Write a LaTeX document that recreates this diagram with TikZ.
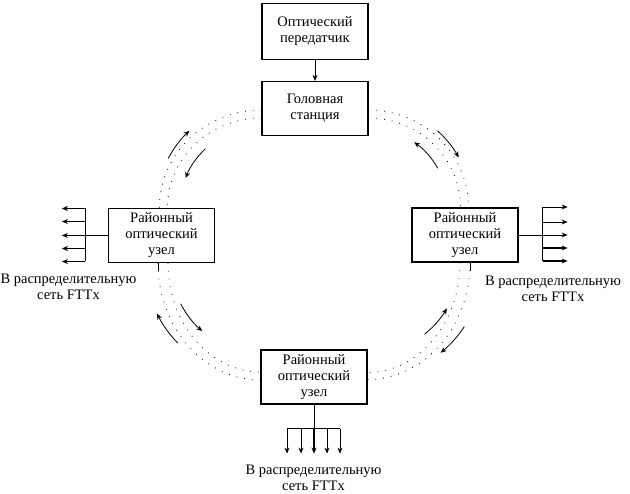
\documentclass[tikz,border=0pt]{standalone}
\usepackage{fontspec}
\setmainfont{Liberation Serif}
\usetikzlibrary{arrows.meta}

\tikzset{
    unit/.style={draw, line width=1.2pt, minimum width=106pt, minimum height=54pt, align=center},
    ring/.style={line width=0.8pt, dash pattern=on 0.8pt off 7pt},
    flow/.style={->, line width=0.8pt},
}

\begin{document}
\begin{tikzpicture}[x=1pt, y=1pt, >={Stealth[length=6pt,width=5pt]}, font=\fontsize{14.5}{16}\selectfont]
        \useasboundingbox (0,0) rectangle (630,494);

        % Boxes
        \node[unit, minimum height=56pt] (tx) at (315,462.5) {Оптический\\передатчик};
        \node[unit] (head) at (315,385.5) {Головная\\станция};
        \node[unit] (westnode) at (161.5,258.5) {Районный\\оптический\\узел};
        \node[unit] (eastnode) at (465,259) {Районный\\оптический\\узел};
        \node[unit] (bottom) at (314,117) {Районный\\оптический\\узел};

        \draw[flow] (tx) -- (head);

        % Ring (two dotted fibres)
        \draw[ring] ([yshift=-1.5pt]head.west) arc[start angle=90, end angle=180, x radius=102, y radius=98];
        \draw[ring] ([yshift=-9.5pt]head.west) arc[start angle=90, end angle=180, x radius=94, y radius=90];
        \draw[ring] ([yshift=-1.5pt]head.east) arc[start angle=90, end angle=0, x radius=100, y radius=98];
        \draw[ring] ([yshift=-9.5pt]head.east) arc[start angle=90, end angle=0, x radius=92, y radius=90];
        \draw[ring] ([xshift=-3.5pt]westnode.south) arc[start angle=180, end angle=270, x radius=103, y radius=117];
        \draw[ring] ([xshift=6.5pt]westnode.south) arc[start angle=180, end angle=270, x radius=93, y radius=109];
        \draw[ring] ([xshift=5pt]eastnode.south) arc[start angle=0, end angle=-90, x radius=103, y radius=117];
        \draw[ring] ([xshift=-5pt]eastnode.south) arc[start angle=0, end angle=-90, x radius=93, y radius=110];
        \draw ([xshift=-3.5pt]westnode.south) -- ++(0,-8);
        \draw ([xshift=5pt]eastnode.south) -- ++(0,-8);

        % Directions on the ring
        \coordinate (tl) at (head.west |- westnode.north);
        \coordinate (tr) at (head.east |- eastnode.north);
        \coordinate (bl) at (bottom.west |- westnode.south);
        \coordinate (br) at (bottom.east |- eastnode.south);
        \foreach \c/\r/\a/\b in {tl/105.5/152/133, tl/81.5/133.5/158.5, tr/103/48/29, tr/79.5/29.5/55,
                                 bl/115/224/206, bl/89.5/207/229.5, br/116/-33.5/-51, br/91.5/-51.5/-30}
            \draw[flow] ([shift={(\a:\r)}]\c) arc[start angle=\a, end angle=\b, radius=\r];

        % Outputs to FTTx
        \draw (westnode.west) -- ++(-23,0) coordinate (wbus);
        \draw ([yshift=27pt]wbus) -- ([yshift=-26pt]wbus);
        \foreach \d/\w in {27/0.8, 14/0.8, 0/0.8, -13/1.6, -26/1.6}
            \draw[->, line width=\w pt] ([yshift=\d pt]wbus) -- ++(-23,0);

        \draw (eastnode.east) -- ++(24,0) coordinate (ebus);
        \draw ([yshift=28pt]ebus) -- ([yshift=-26pt]ebus);
        \foreach \d/\w in {28/0.8, 13/0.8, 0/0.8, -13/1.6, -26/1.6}
            \draw[->, line width=\w pt] ([yshift=\d pt]ebus) -- ++(25,0);

        \draw (bottom.south) -- ++(0,-24) coordinate (sbus);
        \draw ([xshift=-27pt]sbus) -- ([xshift=26pt]sbus);
        \foreach \d/\w in {-27/0.8, -13/0.8, 0/1.6, 13/0.8, 26/0.8}
            \draw[->, line width=\w pt] ([xshift=\d pt]sbus) -- ++(0,-25);

        % Labels
        \node[align=center] (wlabel) at (68.5,207) {В распределительную\\сеть FTTx};
        \node[align=center] (elabel) at (553,205) {В распределительную\\сеть FTTx};
        \node[align=center] (slabel) at (313.5,16.5) {В распределительную\\сеть FTTx};

    \end{tikzpicture}
\end{document}
